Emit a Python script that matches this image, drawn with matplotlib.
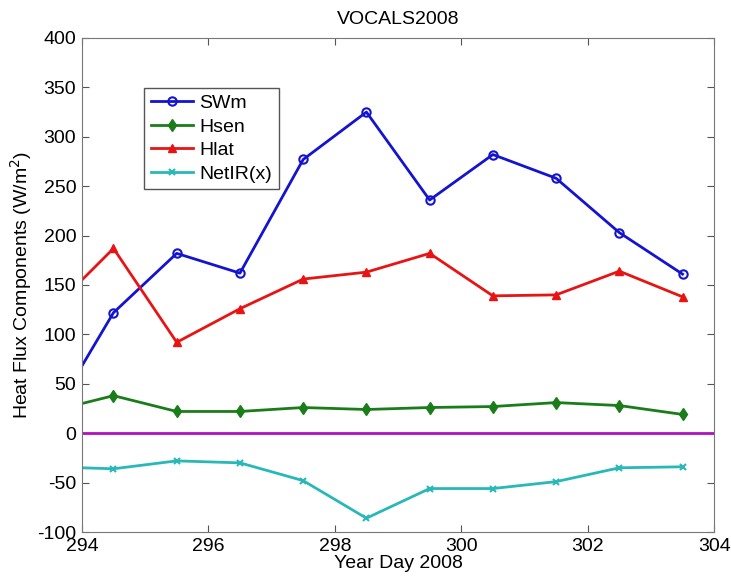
import matplotlib.pyplot as plt
import numpy as np

plt.rcParams['font.family'] = ['Liberation Sans', 'DejaVu Sans']
plt.rcParams['axes.unicode_minus'] = False

# daily means, centred on half days (first value sits left of the axis)
day = [293.5, 294.5, 295.5, 296.5, 297.5, 298.5, 299.5, 300.5, 301.5, 302.5, 303.5]
swm = [14, 122, 182, 162, 277, 325, 236, 282, 258, 203, 161]
hsen = [22, 38, 22, 22, 26, 24, 26, 27, 31, 28, 19]
hlat = [123, 187, 92, 126, 156, 163, 182, 139, 140, 164, 138]
netir = [-34, -36, -28, -30, -48, -86, -56, -56, -49, -35, -34]

fig = plt.figure(figsize=(7.31, 5.84), dpi=100)
ax = fig.add_axes([0.112, 0.089, 0.865, 0.846])

ax.plot(day, swm, '-o', color='#1414d0', lw=2, ms=6, mfc='none', mew=1.5, label='SWm')
ax.plot(day, hsen, '-d', color='#1a7d1a', lw=2, ms=6, label='Hsen')
ax.plot(day, hlat, '-^', color='#e81414', lw=2, ms=6, label='Hlat')
ax.plot(day, netir, '-x', color='#28b8b8', lw=2, ms=5, mew=1.5, label='NetIR(x)')
ax.axhline(0, color='#b010c0', lw=2)

ax.set_xlim(294, 304)
ax.set_ylim(-100, 400)
ax.set_xticks(np.arange(294, 305, 2))
ax.set_yticks(np.arange(-100, 401, 50))
ax.tick_params(direction='in', top=True, right=True, labelsize=14, length=5,
               color='#555555', pad=4)
for s in ax.spines.values():
    s.set_color('#777777')

ax.set_title('VOCALS2008', fontsize=14, pad=10)
ax.set_xlabel('Year Day 2008', fontsize=14, labelpad=0)
ax.set_ylabel('Heat Flux Components (W/m$^2$)', fontsize=14, labelpad=2)

leg = ax.legend(loc='upper left', bbox_to_anchor=(0.098, 0.899), borderaxespad=0,
                fontsize=14, fancybox=False, framealpha=1, handlelength=2.2,
                labelspacing=0.3, handletextpad=0.3, borderpad=0.35)
leg.get_frame().set_edgecolor('#555555')

fig.savefig('out.png', dpi=100)
